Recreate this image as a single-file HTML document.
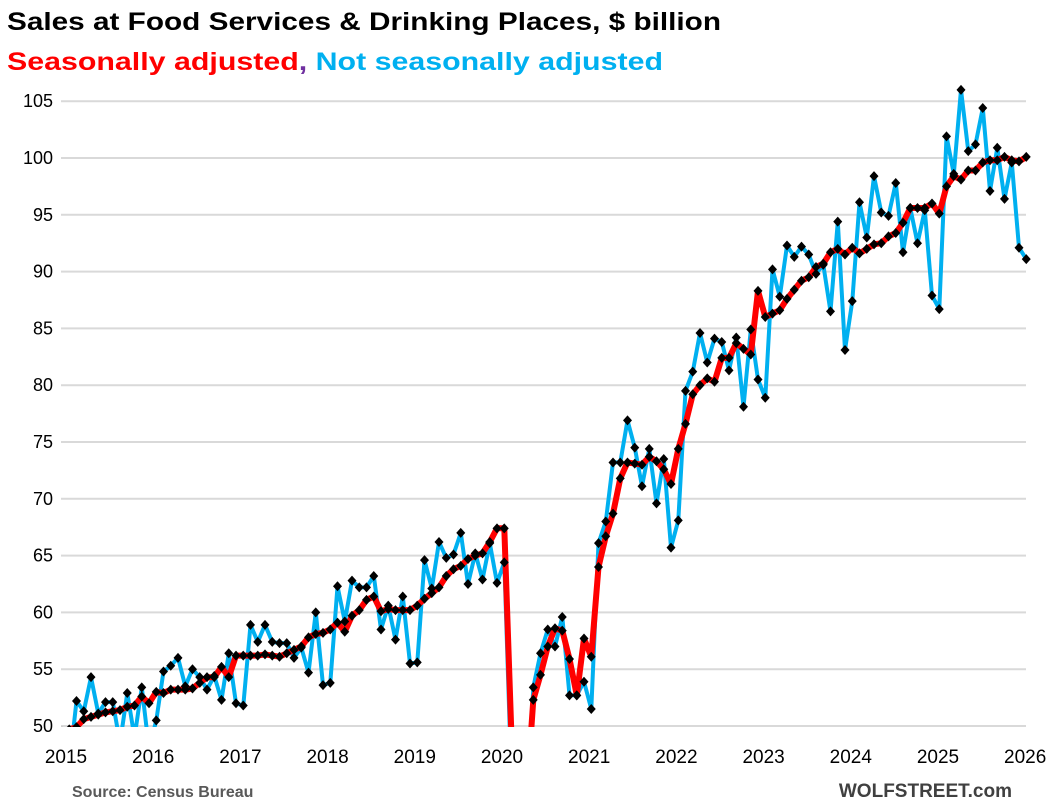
<!DOCTYPE html>
<html><head><meta charset="utf-8"><style>
html,body{margin:0;padding:0;background:#fff;width:1049px;height:811px;overflow:hidden;}
svg{display:block;font-family:"Liberation Sans",sans-serif;}
</style></head><body>
<svg id="s" width="1049" height="811" viewBox="0 0 1049 811" xmlns="http://www.w3.org/2000/svg">
<text x="7" y="30" font-size="25" font-weight="bold" fill="#000" textLength="714" lengthAdjust="spacingAndGlyphs">Sales at Food Services &amp; Drinking Places, $ billion</text>
<text x="7" y="70" font-size="25" font-weight="bold" textLength="656" lengthAdjust="spacingAndGlyphs"><tspan fill="#ff0000">Seasonally adjusted</tspan><tspan fill="#7030a0">, </tspan><tspan fill="#00b0f0">Not seasonally adjusted</tspan></text>
<g id="grid"></g>
<defs><clipPath id="c"><rect x="0" y="0" width="1049" height="727"/></clipPath></defs>
<g id="plot" clip-path="url(#c)"></g>
<text x="72" y="797" font-size="16" font-weight="bold" fill="#595959">Source: Census Bureau</text>
<text x="1012" y="797" font-size="19" font-weight="bold" fill="#404040" text-anchor="end">WOLFSTREET.com</text>
</svg>
<script>
var NS="http://www.w3.org/2000/svg";
function el(t,a,p,txt){var e=document.createElementNS(NS,t);for(var k in a)e.setAttribute(k,a[k]);if(txt)e.textContent=txt;p.appendChild(e);return e;}
var g=document.getElementById('grid'),p=document.getElementById('plot');
function Y(v){return 726-(v-50)*11.36;}
for(var v=50;v<=105;v+=5){var y=Y(v);el('line',{x1:61,x2:1026,y1:y,y2:y,stroke:'#d9d9d9','stroke-width':2},g);el('text',{x:53,y:y+6,'font-size':18,'text-anchor':'end',fill:'#000'},g,String(v));}
for(var yr=2015;yr<=2026;yr++){el('text',{x:66+(yr-2015)*87.2,y:763,'font-size':19,'text-anchor':'middle',fill:'#000'},g,String(yr));}
var sa=[49.5,49.7,49.9,50.6,50.8,51.0,51.2,51.3,51.4,51.7,51.8,52.6,52.0,53.0,52.9,53.2,53.2,53.2,53.3,53.8,54.3,54.3,55.2,54.3,56.2,56.2,56.2,56.2,56.3,56.2,56.1,56.4,56.7,57.0,57.8,58.1,58.2,58.5,59.1,58.3,59.7,60.2,61.1,61.4,60.1,60.3,60.2,60.2,60.2,60.6,61.2,61.7,62.2,63.2,63.8,64.1,64.7,65.0,65.2,66.2,67.4,67.4,49.0,30,43,52.3,54.5,57.0,58.6,58.4,55.9,52.7,57.7,56.1,64.0,66.7,68.7,71.8,73.2,73.1,73.0,73.7,73.3,72.6,71.3,74.4,76.6,79.2,80.0,80.6,80.3,82.4,82.4,83.7,83.2,82.7,88.3,86.0,86.3,86.6,87.6,88.4,89.2,89.5,90.4,90.7,91.7,92.0,91.5,92.1,91.6,92.0,92.4,92.5,93.1,93.4,94.3,95.6,95.6,95.6,96.0,95.1,97.5,98.4,98.1,98.9,98.9,99.6,99.8,99.8,100.1,99.8,99.7,100.1];
var nsa=[46,46.5,52.2,51.3,54.3,51.1,52.1,52.1,48.5,52.9,49.0,53.4,48.0,50.5,54.8,55.3,56.0,53.5,55.0,54.3,53.2,54.4,52.3,56.4,52.0,51.8,58.9,57.4,58.9,57.4,57.3,57.3,56.0,56.9,54.7,60.0,53.6,53.8,62.3,59.2,62.8,62.2,62.2,63.2,58.5,60.6,57.6,61.4,55.5,55.6,64.6,62.1,66.2,64.8,65.1,67.0,62.5,65.2,62.9,66.1,62.6,64.4,45,28,40,53.4,56.4,58.5,57.0,59.6,52.7,52.7,53.9,51.5,66.1,68.0,73.2,73.2,76.9,74.5,71.1,74.4,69.6,73.5,65.7,68.1,79.5,81.2,84.6,82.0,84.1,83.8,81.3,84.2,78.1,84.9,80.5,78.9,90.2,87.8,92.3,91.3,92.2,91.5,89.8,90.6,86.5,94.4,83.1,87.4,96.1,93.0,98.4,95.2,94.9,97.8,91.7,95.6,92.5,95.4,87.9,86.7,101.9,98.6,106.0,100.6,101.2,104.4,97.1,100.9,96.4,99.6,92.1,91.1];
function X(i){return 62+i*7.25;}
function line(d,col,w){var s='';for(var i=0;i<d.length;i++)s+=(i?'L':'M')+X(i).toFixed(1)+' '+Y(d[i]).toFixed(1);el('path',{d:s,fill:'none',stroke:col,'stroke-width':w,'stroke-linejoin':'round'},p);}
function marks(d){for(var i=0;i<d.length;i++){var x=X(i),y=Y(d[i]);el('path',{d:'M'+x+' '+(y-5)+'L'+(x+4.5)+' '+y+'L'+x+' '+(y+5)+'L'+(x-4.5)+' '+y+'Z',fill:'#000'},p);}}
line(nsa,'#00b0f0',4);
line(sa,'#ff0000',6);
marks(nsa);marks(sa);
</script>
</body></html>
